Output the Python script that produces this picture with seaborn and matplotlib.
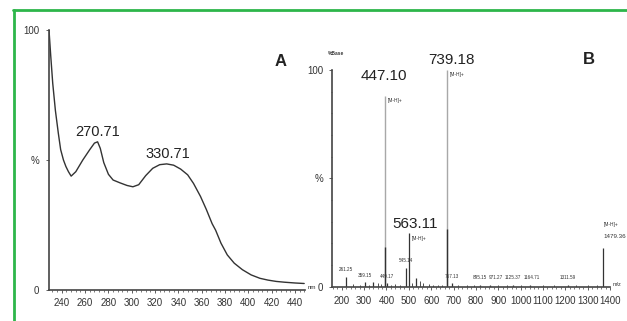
import numpy as np
import pandas as pd
import matplotlib
matplotlib.use("Agg")
import matplotlib.pyplot as plt
from matplotlib.lines import Line2D
from matplotlib.ticker import MultipleLocator
import seaborn as sns

# ---------------- data ----------------
# Panel A: UV spectrum
uv_wavelength = [229, 230.5, 232.2, 234.5, 237, 239, 241.4, 243.5, 245.7, 248, 252, 258, 264, 268,
                 270.7, 273, 276, 280, 284, 290, 296, 301, 306, 312, 318, 324, 330, 336, 342,
                 348, 353, 359, 364, 369, 372, 376.6, 382, 388, 395, 402.5, 410, 417, 424, 431,
                 440, 448]
uv_absorb = [100, 90, 79.5, 69, 60.3, 54, 50, 47.5, 45.5, 43.8, 45.5, 50, 54, 56.5,
             57, 54.5, 49, 44.5, 42.3, 41.2, 40.2, 39.7, 40.5, 44, 46.8, 48.2, 48.5, 48, 46.5,
             44.3, 41, 36, 31, 25.5, 23, 18, 13.5, 10.3, 7.8, 5.8, 4.5, 3.8, 3.3, 3,
             2.7, 2.5]
uv_peak_labels = ["270.71", "330.71"]
uv_peak_pos = [(270.7, 57), (330.7, 48.5)]
uv_xticks = [240, 260, 280, 300, 320, 340, 360, 380, 400, 420, 440]

# Panel B: mass spectrum
ms_mz = [394, 670, 502, 1370, 487, 218, 304, 338, 402, 532, 692, 818, 863, 967, 1042, 1213]
ms_int = [88, 100, 24.6, 18, 8.6, 4.6, 2, 2, 1.5, 4, 1.5, 1, 1, 0.8, 0.8, 0.8]
ms_base_mz = [394, 670]          # darker lower part of the two tall peaks
ms_base_int = [18.5, 26.5]
ms_noise_mz = [250, 280, 320, 360, 375, 420, 440, 460, 515, 550, 565, 590, 610, 630, 650,
               720, 760, 790, 900, 940, 1000, 1100, 1150, 1250, 1300, 1340]
ms_noise_int = [1.2, 0.8, 1.0, 1.5, 1.3, 1.0, 1.2, 0.9, 1.5, 2.5, 1.6, 1.2, 1.0, 0.8, 0.9,
                0.8, 0.7, 0.8, 0.7, 0.8, 0.7, 0.6, 0.7, 0.6, 0.6, 0.7]
ms_big_labels = ["447.10", "739.18", "563.11"]
ms_big_pos = [(394, 88), (670, 100), (502, 24.6)]
ms_small_labels = ["261.25", "359.15", "449.17", "545.14", "757.13", "895.15", "971.27",
                   "1125.37", "1164.71", "1311.59"]
ms_small_pos = [(218, 4.6), (304, 2), (402, 1.5), (487, 8.6), (692, 1.5), (818, 1), (890, 1),
                (967, 0.8), (1050, 0.8), (1213, 0.8)]
ms_xticks = [200, 300, 400, 500, 600, 700, 800, 900, 1000, 1100, 1200, 1300, 1400]

# ---------------- figure ----------------
sns.set_theme(style="white")
plt.rcParams['font.family'] = ['Liberation Sans', 'DejaVu Sans']

W, H = 627, 321
fig = plt.figure(figsize=(W / 100, H / 100), dpi=100)
fig.patch.set_facecolor("white")


def px_axes(x0, y0, x1, y1):
    return fig.add_axes([x0 / W, 1 - y1 / H, (x1 - x0) / W, (y1 - y0) / H])


axis_col = "#444444"
tick_font = 7

# ---- Panel A ----
axA = px_axes(49, 30, 305, 290)
dfA = pd.DataFrame({"wl": uv_wavelength, "abs": uv_absorb})
sns.lineplot(data=dfA, x="wl", y="abs", ax=axA, color="#333333", linewidth=1.0)
axA.set_xlim(229, 448.7)
axA.set_ylim(0, 100)
axA.set_xlabel("")
axA.set_ylabel("")
for s in ["top", "right"]:
    axA.spines[s].set_visible(False)
for s in ["left", "bottom"]:
    axA.spines[s].set_color(axis_col)
    axA.spines[s].set_linewidth(1.2)
axA.set_xticks(uv_xticks)
axA.set_xticklabels([str(t) for t in uv_xticks], fontsize=tick_font, color="#333333")
axA.xaxis.set_minor_locator(MultipleLocator(4))
axA.set_yticks([0, 50, 100])
axA.set_yticklabels(["0", "%", "100"], fontsize=tick_font, color="#333333")
axA.tick_params(axis="x", which="major", direction="out", length=2.5, width=0.6, color=axis_col, pad=3.5)
axA.tick_params(axis="x", which="minor", direction="out", length=1.5, width=0.5, color=axis_col)
axA.tick_params(axis="y", which="major", direction="out", length=2, width=0.6, color=axis_col, pad=5)
axA.tick_params(bottom=True, left=True, which="both")
axA.set_facecolor("none")
for lab, (x, y) in zip(uv_peak_labels, uv_peak_pos):
    axA.text(x, y + 1.0, lab, ha="center", va="bottom", fontsize=10.5, color="#222222")
axA.text(0.905, 0.88, "A", transform=axA.transAxes, fontsize=12, fontweight="bold",
         ha="center", va="center", color="#222222")
axA.text(1.01, 0.0, "nm", transform=axA.transAxes, fontsize=4.5, ha="left", va="bottom",
         color="#333333")

# ---- Panel B ----
axB = px_axes(331.7, 70, 610, 286.7)
axB.set_xlim(155, 1400)
axB.set_ylim(0, 100)
axB.vlines(ms_noise_mz, 0, ms_noise_int, color="#333333", linewidth=0.6)
axB.vlines(ms_mz[:2], 0, ms_int[:2], color="#a8a8a8", linewidth=1.0)
axB.vlines(ms_mz[2:], 0, ms_int[2:], color="#333333", linewidth=0.9)
axB.vlines(ms_base_mz, 0, ms_base_int, color="#333333", linewidth=1.0)
for s in ["top", "right"]:
    axB.spines[s].set_visible(False)
for s in ["left", "bottom"]:
    axB.spines[s].set_color(axis_col)
    axB.spines[s].set_linewidth(1.2)
axB.set_xticks(ms_xticks)
axB.set_xticklabels([str(t) for t in ms_xticks], fontsize=tick_font, color="#333333")
axB.xaxis.set_minor_locator(MultipleLocator(20))
axB.set_yticks([0, 50, 100])
axB.set_yticklabels(["0", "%", "100"], fontsize=tick_font, color="#333333")
axB.yaxis.set_minor_locator(MultipleLocator(10))
axB.tick_params(axis="x", which="major", direction="out", length=2.5, width=0.6, color=axis_col, pad=4.5)
axB.tick_params(axis="x", which="minor", direction="out", length=1.5, width=0.5, color=axis_col)
axB.tick_params(axis="y", which="major", direction="out", length=2, width=0.6, color=axis_col, pad=4)
axB.tick_params(axis="y", which="minor", direction="out", length=1, width=0.5, color=axis_col)
axB.tick_params(bottom=True, left=True, which="both")
axB.set_facecolor("none")

big_off = [(-4, 6), (22, 1.5), (26, 1.0)]
for lab, (x, y), (dx, dy) in zip(ms_big_labels, ms_big_pos, big_off):
    axB.text(x + dx, y + dy, lab, ha="center", va="bottom", fontsize=11, color="#222222")
for x, y in ms_big_pos:
    axB.text(x + 12, y - 1, "[M-H]+", ha="left", va="top", fontsize=3.5, color="#333333")
axB.text(1370, 18 + 9.5, "[M-H]+", ha="left", va="bottom", fontsize=3.5, color="#333333")
axB.text(1370, 18 + 4, "1479.36", ha="left", va="bottom", fontsize=4.5, color="#333333")
for lab, (x, y) in zip(ms_small_labels, ms_small_pos):
    axB.text(x, y + 2.2, lab, ha="center", va="bottom", fontsize=3.3, color="#333333")
axB.text(1.01, 0.0, "m/z", transform=axB.transAxes, fontsize=4, ha="left", va="bottom",
         color="#333333")
axB.text(-0.015, 1.078, "%Base", transform=axB.transAxes, fontsize=3.5, ha="left",
         va="center", color="#333333", fontweight="bold")
axB.text(0.925, 1.05, "B", transform=axB.transAxes, fontsize=12, fontweight="bold",
         ha="center", va="center", color="#222222")

# ---- green frame ----
green = "#2db64a"
fig.add_artist(Line2D([13 / W, 1], [1 - 10 / H, 1 - 10 / H], color=green, linewidth=2.0,
                      transform=fig.transFigure))
fig.add_artist(Line2D([14 / W, 14 / W], [1 - 10 / H, 0], color=green, linewidth=2.0,
                      transform=fig.transFigure))

fig.savefig("out.png", dpi=100)
